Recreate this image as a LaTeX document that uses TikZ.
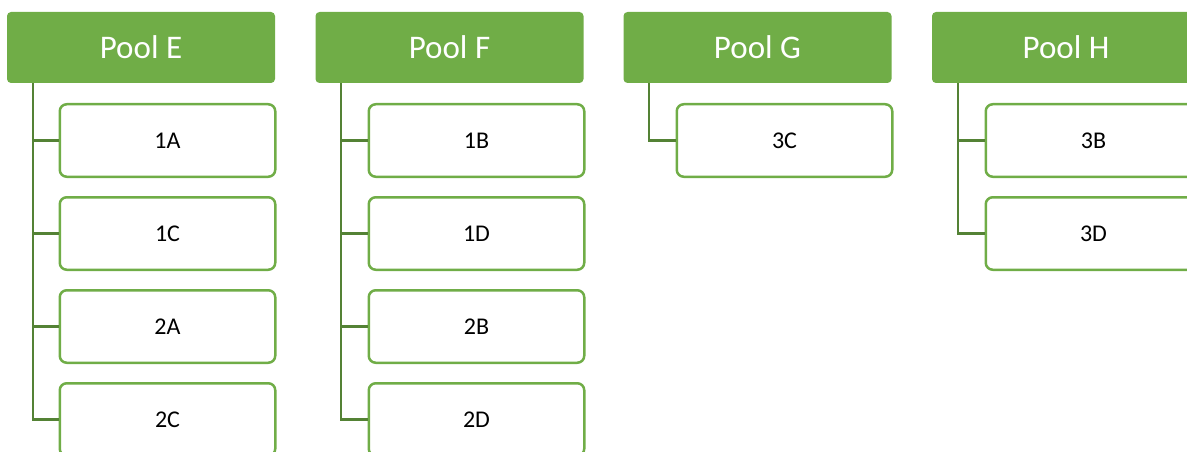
\documentclass[tikz,border=0pt]{standalone}
\usepackage{fontspec}
\setmainfont{Carlito}
\usetikzlibrary{positioning}
\definecolor{poolgreen}{HTML}{70AD47}
\definecolor{linkgreen}{HTML}{548235}
\tikzset{
	pool/.style={fill=poolgreen, text=white, rounded corners=4pt, minimum width=268pt, minimum height=71pt, inner sep=0pt, font=\fontsize{33}{38}\selectfont},
	team/.style={draw=poolgreen, line width=2.5pt, fill=white, rounded corners=7pt, minimum width=215.5pt, minimum height=72.5pt, inner sep=0pt, font=\fontsize{24}{28}\selectfont},
	link/.style={draw=linkgreen, line width=2.3pt}
}

\begin{document}
\begin{tikzpicture}[x=1pt, y=-1pt]
			%%%%% START %%%%%
			
			\useasboundingbox (0, 0) rectangle (1187, 452);
			\clip (0, 0) rectangle (1187, 452);
			
			% pool headers
			\node[pool] (poolE) at (141, 47.5) {Pool E};
			\node[pool] (poolF) at (449.5, 47.5) {Pool F};
			\node[pool] (poolG) at (757.5, 47.5) {Pool G};
			\node[pool] (poolH) at (1066, 47.5) {Pool H};
			
			% pool E
			\node[team] (t1A) at (167.5, 140.5) {1A};
			\node[team, below=18pt of t1A] (t1C) {1C};
			\node[team, below=18pt of t1C] (t2A) {2A};
			\node[team, below=18pt of t2A] (t2C) {2C};
			
			% pool F
			\node[team] (t1B) at (476.5, 140.5) {1B};
			\node[team, below=18pt of t1B] (t1D) {1D};
			\node[team, below=18pt of t1D] (t2B) {2B};
			\node[team, below=18pt of t2B] (t2D) {2D};
			
			% pool G
			\node[team] (t3C) at (784.5, 140.5) {3C};
			
			% pool H
			\node[team] (t3B) at (1093.5, 140.5) {3B};
			\node[team, below=18pt of t3B] (t3D) {3D};
			
			% links
			\draw[link] ([xshift=26pt]poolE.south west) |- (t1A.west);
			\draw[link] ([xshift=26pt]poolE.south west) |- (t1C.west);
			\draw[link] ([xshift=26pt]poolE.south west) |- (t2A.west);
			\draw[link] ([xshift=26pt]poolE.south west) |- (t2C.west);
			
			\draw[link] ([xshift=26pt]poolF.south west) |- (t1B.west);
			\draw[link] ([xshift=26pt]poolF.south west) |- (t1D.west);
			\draw[link] ([xshift=26pt]poolF.south west) |- (t2B.west);
			\draw[link] ([xshift=26pt]poolF.south west) |- (t2D.west);
			
			\draw[link] ([xshift=26pt]poolG.south west) |- (t3C.west);
			
			\draw[link] ([xshift=26pt]poolH.south west) |- (t3B.west);
			\draw[link] ([xshift=26pt]poolH.south west) |- (t3D.west);
			
			%%%%% END %%%%%
\end{tikzpicture}
\end{document}
